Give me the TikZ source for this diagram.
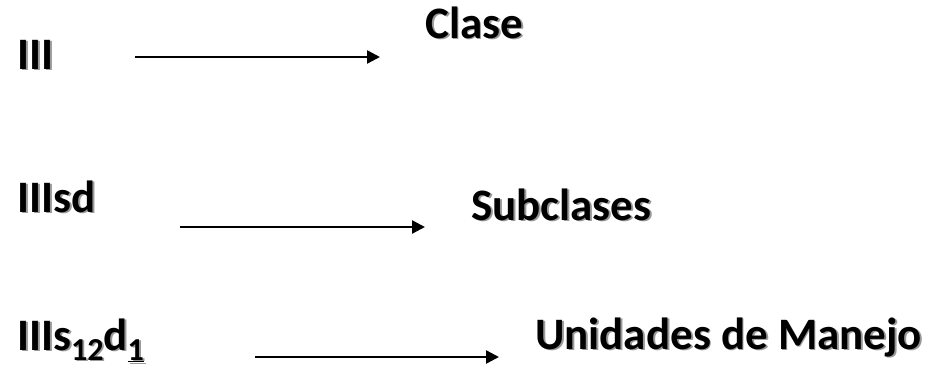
\documentclass[tikz,border=0pt]{standalone}
\usepackage{fontspec}
\setmainfont{Carlito}
\usetikzlibrary{arrows.meta}
\newcommand{\shtxt}[1]{\rlap{\kern1.8pt\raisebox{-1.8pt}{\color{black!40}#1}}#1}
\tikzset{
  lbl/.style={anchor=base west, inner sep=0pt, font=\fontsize{45}{50}\selectfont\bfseries},
  arr/.style={line width=2.4pt, -{Triangle[length=13pt,width=13pt]}}
}
\newcommand{\sbs}[1]{{\fontsize{32}{34}\selectfont\raisebox{-10pt}{#1}}}
\begin{document}
\begin{tikzpicture}[x=1pt,y=-1pt]
\useasboundingbox (0,0) rectangle (925,369);
\node[lbl] (a) at (17,69) {\shtxt{III}};
\node[lbl] (b) at (425,38) {\shtxt{Clase}};
\coordinate (a1) at (135,57);
\coordinate (a2) at (380,57);
\draw[arr] (a1) -- (a2);
\node[lbl] (c) at (17,212) {\shtxt{IIIsd}};
\node[lbl] (d) at (471,220) {\shtxt{Subclases}};
\coordinate (c1) at (180,227);
\coordinate (c2) at (425,227);
\draw[arr] (c1) -- (c2);
\node[lbl] (e) at (17,350) {\shtxt{IIIs\sbs{12}d\sbs{\underline{1}}}};
\node[lbl] (f) at (535,349) {\shtxt{Unidades de Manejo}};
\coordinate (e1) at (255,357);
\coordinate (e2) at (499,357);
\draw[arr] (e1) -- (e2);
\end{tikzpicture}
\end{document}
